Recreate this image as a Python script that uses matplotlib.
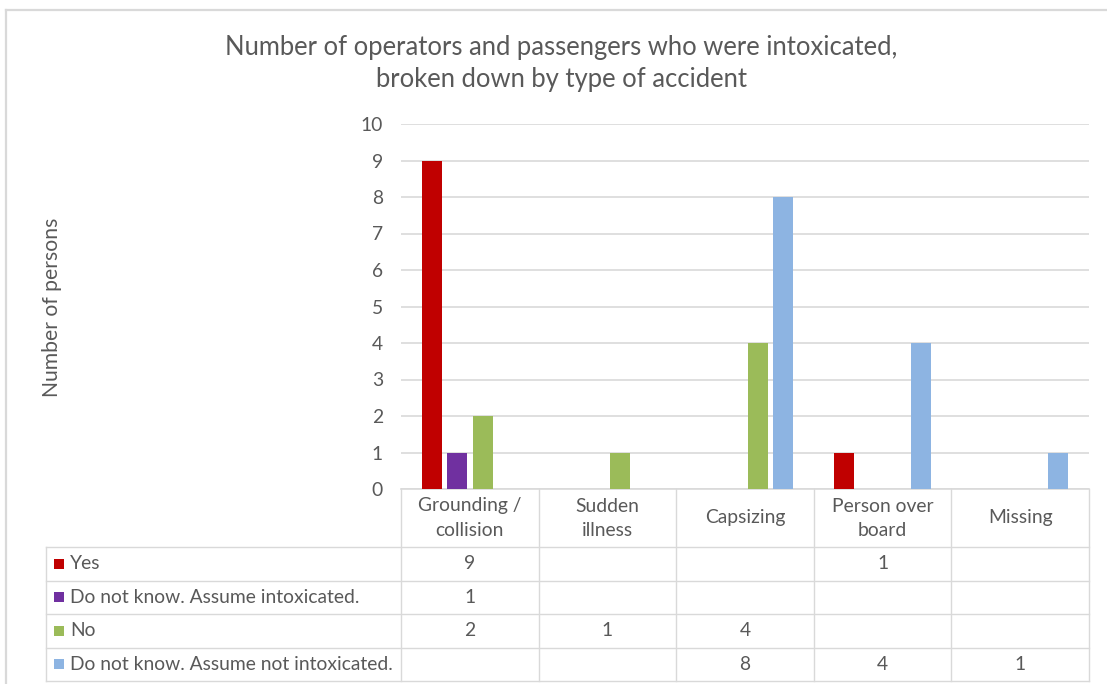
import matplotlib
matplotlib.use("Agg")
import matplotlib.pyplot as plt
from matplotlib.patches import Rectangle

# ---------------------------------------------- DATA ----------------------------------------------

categories = ["Grounding /\ncollision", "Sudden\nillness", "Capsizing", "Person over\nboard", "Missing"]
series_names = ["Yes", "Do not know. Assume intoxicated.", "No", "Do not know. Assume not intoxicated."]
yes = [9, None, None, 1, None]
unknown_intox = [1, None, None, None, None]
no = [2, 1, 4, None, None]
unknown_not_intox = [None, None, 8, 4, 1]
y_ticks = [0, 1, 2, 3, 4, 5, 6, 7, 8, 9, 10]

series = [yes, unknown_intox, no, unknown_not_intox]
colors = ["#C00000", "#7030A0", "#9BBB59", "#8DB4E2"]

TEXT = "#595959"
LINE = "#d9d9d9"
FONT = "Lato"

# ---------------------------------------------- LAYOUT (pixels) ----------------------------------------------

W, H = 1107, 684
plot_l, plot_r, plot_t, plot_b = 401, 1089, 124, 489
tab_l = 46
row_edges = [547, 580.5, 614, 647.5, 681]
col_w = (plot_r - plot_l) / len(categories)

fig = plt.figure(figsize=(W / 100, H / 100), dpi=100)
renderer = fig.canvas.get_renderer()


def fit_size(text, target_px, **kw):
    t = fig.text(0, 0, text, fontsize=20, family=FONT, **kw)
    w = t.get_window_extent(renderer=renderer).width
    t.remove()
    return 20 * target_px / w


body_size = fit_size("Do not know. Assume not intoxicated.", 323)
title_size = fit_size("Number of operators and passengers who were intoxicated,", 674)
ylabel_size = fit_size("Number of persons", 179)

# overlay axes in pixel coords for frame + table
tab = fig.add_axes([0, 0, 1, 1])
tab.set_xlim(0, W)
tab.set_ylim(H, 0)
tab.axis("off")
tab.patch.set_alpha(0)

# ---------------------------------------------- BAR CHART ----------------------------------------------

ax = fig.add_axes([plot_l / W, 1 - plot_b / H, (plot_r - plot_l) / W, (plot_b - plot_t) / H])
ax.set_xlim(-0.5, len(categories) - 0.5)
ax.set_ylim(0, 10)

step = 0.185
width = 0.145
for i, (vals, c) in enumerate(zip(series, colors)):
    xs = [k + (i - 1.5) * step for k, v in enumerate(vals) if v is not None]
    hs = [v for v in vals if v is not None]
    ax.bar(xs, hs, width=width, color=c, zorder=3)

ax.set_yticks(y_ticks)
ax.set_xticks([])
ax.yaxis.grid(True, color=LINE, lw=1.2)
ax.set_axisbelow(True)
for s in ["top", "right", "left"]:
    ax.spines[s].set_visible(False)
ax.spines["bottom"].set_color(LINE)
ax.spines["bottom"].set_linewidth(1.2)
ax.tick_params(axis="y", length=0, pad=13, labelsize=body_size, labelcolor=TEXT)
for lab in ax.get_yticklabels():
    lab.set_family(FONT)
ax.patch.set_alpha(0)

# ---------------------------------------------- TITLE / AXIS LABEL ----------------------------------------------

tab.text(561, 47, "Number of operators and passengers who were intoxicated,", ha="center", va="center",
         fontsize=title_size, color=TEXT, family=FONT)
tab.text(561, 79, "broken down by type of accident", ha="center", va="center",
         fontsize=title_size, color=TEXT, family=FONT)
tab.text(52, 307, "Number of persons", rotation=90, ha="center", va="center",
         fontsize=ylabel_size, color=TEXT, family=FONT)

# outer chart frame (only top/left visible in crop)
tab.plot([5.5, W], [9.5, 9.5], color=LINE, lw=1.6)
tab.plot([5.5, 5.5], [9.5, H], color=LINE, lw=1.6)

# ---------------------------------------------- DATA TABLE ----------------------------------------------

tl = dict(color=LINE, lw=1.0)
for y in row_edges:
    tab.plot([tab_l, plot_r], [y, y], **tl)
tab.plot([tab_l, tab_l], [row_edges[0], row_edges[-1]], **tl)
for k in range(len(categories) + 1):
    x = plot_l + k * col_w
    tab.plot([x, x], [plot_b, row_edges[-1]], **tl)

# header
for k, cat in enumerate(categories):
    cx = plot_l + (k + 0.5) * col_w
    lines = cat.split("\n")
    ys = [506, 531] if len(lines) == 2 else [518]
    for ln, yy in zip(lines, ys):
        tab.text(cx, yy, ln, ha="center", va="center", fontsize=body_size, color=TEXT, family=FONT)

# rows
for r, (name, vals, c) in enumerate(zip(series_names, series, colors)):
    cy = (row_edges[r] + row_edges[r + 1]) / 2
    tab.add_patch(Rectangle((54, cy - 5), 10, 10, color=c, lw=0))
    tab.text(70, cy, name, ha="left", va="center", fontsize=body_size, color=TEXT, family=FONT)
    for k, v in enumerate(vals):
        if v is None:
            continue
        cx = plot_l + (k + 0.5) * col_w
        tab.text(cx, cy, str(v), ha="center", va="center", fontsize=body_size, color=TEXT, family=FONT)

fig.savefig("out.png", dpi=100)
